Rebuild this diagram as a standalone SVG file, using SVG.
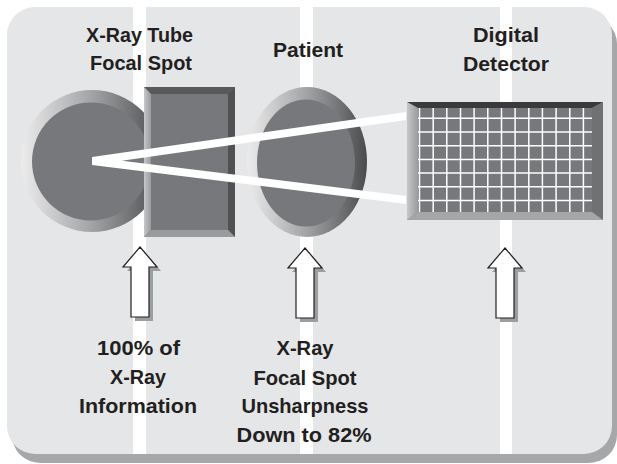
<svg xmlns="http://www.w3.org/2000/svg" width="617" height="464" viewBox="0 0 617 464">
<style>
.t{font-family:"Liberation Sans",Arial,sans-serif;font-weight:bold;font-size:21px;fill:#231f20;text-anchor:middle}
.stripe{fill:#ffffff}
.face{fill:#77787b}
.grid{stroke:#ffffff;stroke-width:1.5}
.arr{fill:#ffffff;stroke:#231f20;stroke-width:1.2;stroke-linejoin:miter}
.arrsh{fill:#9d9ea0}
</style>
<defs>
<linearGradient id="ring" x1="0" y1="0" x2="1" y2="0">
<stop offset="0" stop-color="#ececec"/>
<stop offset="0.5" stop-color="#a2a3a5"/>
<stop offset="1" stop-color="#4a4b4d"/>
</linearGradient>
<linearGradient id="lbev" x1="0" y1="0" x2="1" y2="0">
<stop offset="0" stop-color="#c6c7c9"/>
<stop offset="1" stop-color="#9a9b9d"/>
</linearGradient>
<path id="arrow" d="M0,0 L17,20 L9,20 L9,70 L-9,70 L-9,20 L-17,20 Z"/>
</defs>
<g id="background">
<rect x="12" y="16" width="605" height="447" rx="28" fill="#a6a7a9"/>
<rect x="7" y="7" width="605" height="447" rx="28" fill="#e5e6e8"/>
<rect class="stripe" x="133" y="7" width="13" height="447"/>
<rect class="stripe" x="300" y="7" width="13" height="447"/>
<rect class="stripe" x="500" y="7" width="12" height="447"/>
</g>
<g id="xray-tube">
<circle cx="92" cy="161" r="71" fill="url(#ring)"/>
<circle cx="91" cy="161.5" r="59" class="face"/>
</g>
<g id="focal-spot">
<rect x="144" y="87" width="91" height="150" class="face"/>
<polygon points="144,87 235,87 228,94 151,94" fill="#58595b"/>
<polygon points="144,87 151,94 151,230 144,237" fill="url(#lbev)"/>
<polygon points="235,87 235,237 228,230 228,94" fill="#505153"/>
<polygon points="144,237 235,237 228,230 151,230" fill="#9a9b9d"/>
<text class="t" x="139.5" y="42" textLength="107" lengthAdjust="spacingAndGlyphs">X-Ray Tube</text>
<text class="t" x="141" y="69.5" textLength="102" lengthAdjust="spacingAndGlyphs">Focal Spot</text>
</g>
<g id="patient">
<ellipse cx="307" cy="162" rx="60" ry="75" fill="url(#ring)"/>
<ellipse cx="306" cy="163" rx="49" ry="63.5" class="face"/>
<text class="t" x="308" y="57" textLength="70" lengthAdjust="spacingAndGlyphs">Patient</text>
</g>
<g id="connectors">
<polygon points="92,157 406,112 406,120 121.9,160.7 406,196 406,204 92,165" fill="#ffffff"/>
<g id="arrow-1"><use href="#arrow" class="arrsh" transform="translate(144,251)"/><use href="#arrow" class="arr" transform="translate(140,247)"/></g>
<g id="arrow-2"><use href="#arrow" class="arrsh" transform="translate(309,252)"/><use href="#arrow" class="arr" transform="translate(305,248)"/></g>
<g id="arrow-3"><use href="#arrow" class="arrsh" transform="translate(509,252)"/><use href="#arrow" class="arr" transform="translate(505,248)"/></g>
</g>
<g id="detector">
<rect x="407" y="102" width="196" height="118" class="face"/>
<g class="grid">
<line x1="419.5" y1="108" x2="419.5" y2="212"/>
<line x1="433.2" y1="108" x2="433.2" y2="212"/>
<line x1="446.8" y1="108" x2="446.8" y2="212"/>
<line x1="460.5" y1="108" x2="460.5" y2="212"/>
<line x1="474.1" y1="108" x2="474.1" y2="212"/>
<line x1="487.8" y1="108" x2="487.8" y2="212"/>
<line x1="501.5" y1="108" x2="501.5" y2="212"/>
<line x1="515.1" y1="108" x2="515.1" y2="212"/>
<line x1="528.8" y1="108" x2="528.8" y2="212"/>
<line x1="542.4" y1="108" x2="542.4" y2="212"/>
<line x1="556.1" y1="108" x2="556.1" y2="212"/>
<line x1="569.8" y1="108" x2="569.8" y2="212"/>
<line x1="583.4" y1="108" x2="583.4" y2="212"/>
<line x1="418" y1="118.3" x2="592" y2="118.3"/>
<line x1="418" y1="132" x2="592" y2="132"/>
<line x1="418" y1="145.7" x2="592" y2="145.7"/>
<line x1="418" y1="159.4" x2="592" y2="159.4"/>
<line x1="418" y1="173.1" x2="592" y2="173.1"/>
<line x1="418" y1="186.8" x2="592" y2="186.8"/>
<line x1="418" y1="200.5" x2="592" y2="200.5"/>
</g>
<polygon points="407,102 603,102 592,108 418,108" fill="#3a3a3c"/>
<polygon points="407,102 418,108 418,212 407,220" fill="url(#lbev)"/>
<polygon points="603,102 603,220 592,212 592,108" fill="#707173"/>
<polygon points="407,220 603,220 592,212 418,212" fill="#a5a6a8"/>
<text class="t" x="506" y="42" textLength="66" lengthAdjust="spacingAndGlyphs">Digital</text>
<text class="t" x="506" y="71" textLength="86" lengthAdjust="spacingAndGlyphs">Detector</text>
</g>
<g id="label-left">
<text class="t" x="138.5" y="355" textLength="83" lengthAdjust="spacingAndGlyphs">100% of</text>
<text class="t" x="138" y="384" textLength="56" lengthAdjust="spacingAndGlyphs">X-Ray</text>
<text class="t" x="138" y="413" textLength="118" lengthAdjust="spacingAndGlyphs">Information</text>
</g>
<g id="label-middle">
<text class="t" x="305" y="355" textLength="57" lengthAdjust="spacingAndGlyphs">X-Ray</text>
<text class="t" x="305" y="385" textLength="103" lengthAdjust="spacingAndGlyphs">Focal Spot</text>
<text class="t" x="305" y="413" textLength="127" lengthAdjust="spacingAndGlyphs">Unsharpness</text>
<text class="t" x="304" y="442" textLength="135" lengthAdjust="spacingAndGlyphs">Down to 82%</text>
</g>
</svg>
